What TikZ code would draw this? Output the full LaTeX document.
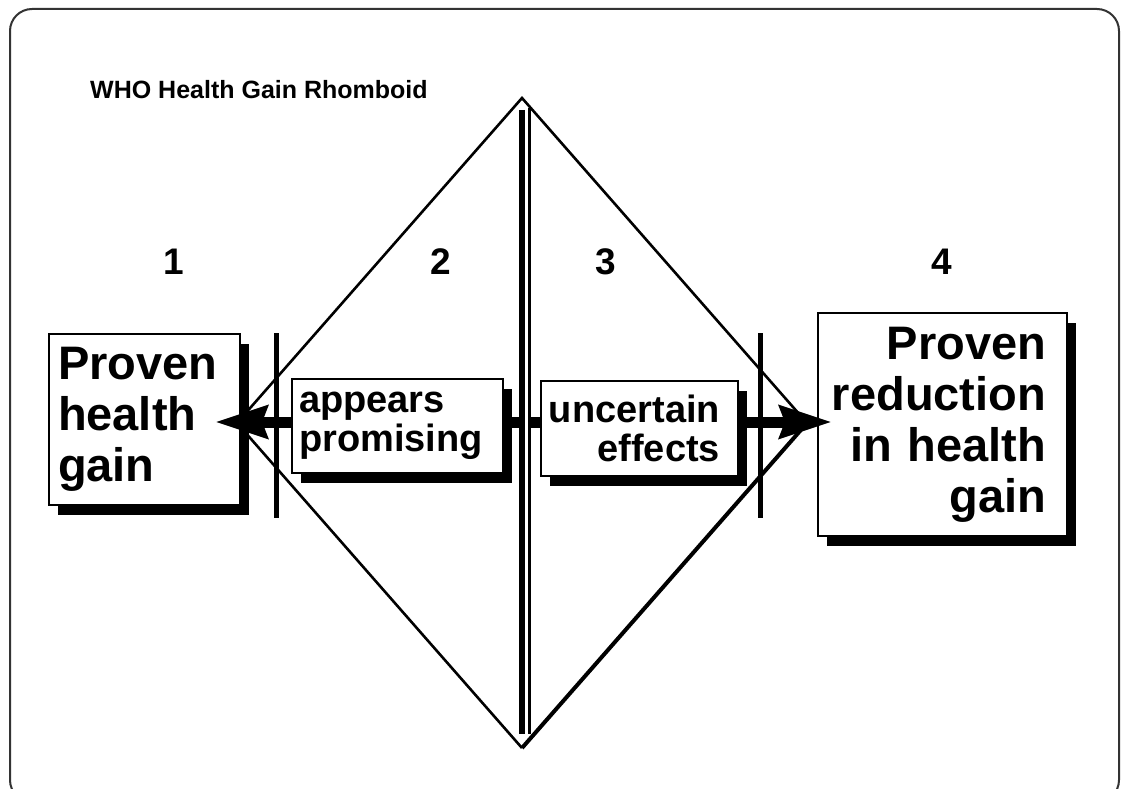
\documentclass[tikz,border=0pt]{standalone}
\usepackage{fontspec}
\setmainfont{Liberation Sans}
\usepackage{tikz}
\usetikzlibrary{arrows.meta}
\usetikzlibrary{shadows}
\pgfdeclarelayer{backlayer}
\pgfdeclarelayer{edgelayer}
\pgfdeclarelayer{nodelayer}
\pgfsetlayers{backlayer,edgelayer,nodelayer,main}
\tikzstyle{none}=[inner sep=0pt]
\tikzstyle{title}=[inner sep=0pt,anchor=base west,font=\fontsize{25}{30}\selectfont\bfseries]
\tikzstyle{number}=[inner sep=0pt,font=\fontsize{37}{44}\selectfont\bfseries]
\tikzstyle{box}=[rectangle,draw=black,line width=2pt,fill=white,anchor=north west,inner ysep=4pt,drop shadow={shadow xshift=9pt,shadow yshift=-10pt,opacity=1,fill=black}]
\tikzstyle{bigbox}=[box,font=\fontsize{47}{51}\selectfont\bfseries]
\tikzstyle{smallbox}=[box,font=\fontsize{38}{39}\selectfont\bfseries]
\tikzstyle{edge}=[draw=black,line width=2.6pt]
\tikzstyle{bar}=[draw=black,line width=5pt]
\tikzstyle{transition}=[{Stealth[length=52pt,width=32pt,inset=5pt]}-{Stealth[length=52pt,width=32pt,inset=5pt]},draw=black,line width=11pt]

\begin{document}
\begin{tikzpicture}[x=1pt,y=-1pt]
	\useasboundingbox (0,0) rectangle (1128,789);
	\begin{pgfonlayer}{backlayer}
		\draw [draw=black!80,line width=2pt,rounded corners=22pt] (10,9) rectangle (1119,802);
		\node [style=title] (0) at (90,99) {WHO Health Gain Rhomboid};
		\node [style=number] (1) at (174,262) {1};
		\node [style=number] (2) at (441,262) {2};
		\node [style=number] (3) at (606,262) {3};
		\node [style=number] (4) at (942,262) {4};
		\coordinate (9) at (522,98);
		\coordinate (10) at (237,423);
		\coordinate (11) at (522,748);
		\coordinate (12) at (807,423);
		\draw [style=edge] (10) -- (9) -- (12);
		\draw [style=edge] (10) -- (11);
		\draw [style=edge,line width=4pt] (11) -- (12);
		\coordinate (13) at (276,333);
		\coordinate (14) at (276,518);
		\coordinate (15) at (760,333);
		\coordinate (16) at (760,518);
		\draw [style=bar] (13) -- (14);
		\draw [style=bar] (15) -- (16);
		\node [style=bigbox,minimum width=191pt,minimum height=171pt,inner xsep=9pt,text width=173pt,align=left] (5) at (48,333) {Proven\\health\\gain};
		\node [style=bigbox,minimum width=249pt,minimum height=223pt,inner xsep=5pt,text width=239pt,align=right,execute at begin node={\rightskip=16pt}] (8) at (817,312) {Proven\\reduction\\in health\\gain};
	\end{pgfonlayer}
	\begin{pgfonlayer}{edgelayer}
		\coordinate (17) at (215,422);
		\coordinate (18) at (832,422);
		\draw [style=transition] (17) to (18);
	\end{pgfonlayer}
	\begin{pgfonlayer}{nodelayer}
		\coordinate (19) at (522,110);
		\coordinate (20) at (522,734);
		\coordinate (21) at (529.2,108);
		\coordinate (22) at (529.2,734);
		\coordinate (23) at (526.3,108);
		\coordinate (24) at (526.3,734);
		\draw [draw=white,line width=2.6pt] (23) -- (24);
		\draw [draw=black,line width=5.6pt] (19) -- (20);
		\draw [draw=black,line width=2.8pt] (21) -- (22);
		\node [style=smallbox,minimum width=211pt,minimum height=94pt,inner xsep=7pt,text width=197pt,align=left] (6) at (291,378) {appears\\promising};
		\node [style=smallbox,minimum width=197pt,minimum height=95pt,inner xsep=6pt,text width=185pt,align=right,execute at begin node={\rightskip=12pt}] (7) at (540,380) {uncertain\\effects};
	\end{pgfonlayer}
\end{tikzpicture}
\end{document}
